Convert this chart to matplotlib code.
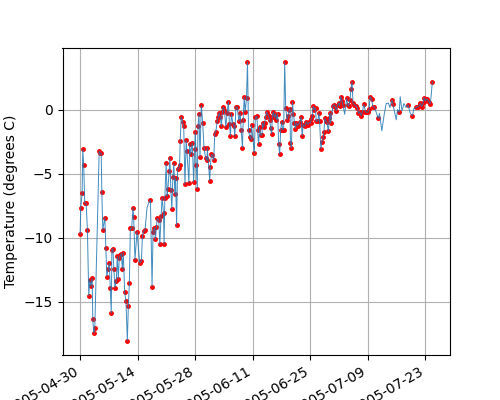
import numpy as np
import pandas as pd
import matplotlib
matplotlib.use("Agg")
import matplotlib.pyplot as plt
import matplotlib.dates as mdates

start_date = "2005-04-30"

# observation times (days after start) and temperatures (degrees C)
obs_days = [
    0.0, 0.15, 0.49, 0.64, 0.88, 1.12, 1.47, 1.78, 2.10, 2.35, 2.59, 2.93, 3.08, 3.32, 3.57,
    4.64, 4.89, 5.13, 5.28, 5.52, 6.01, 6.26, 6.5, 6.84, 7.09, 7.33, 7.58, 7.72, 7.97, 8.21,
    8.46, 8.8, 9.04, 9.29, 9.53, 9.78, 10.02, 10.27, 10.51, 10.83, 11.15, 11.49, 11.73, 11.98,
    12.22, 12.54, 12.86, 13.03, 13.35, 13.84, 14.5, 14.91, 15.16, 15.47, 15.79,
    17.11, 17.5, 17.75, 18.09, 18.33, 18.58, 18.72, 19.14, 19.38, 19.7, 19.95, 20.29, 20.43,
    20.61, 20.92, 21.17, 21.34, 21.66, 21.83, 22.07, 22.32, 22.56, 22.81, 23.05, 23.22, 23.47,
    23.71, 23.96, 24.2, 24.35, 24.59, 24.93, 25.2, 25.5, 25.81, 25.98, 26.47, 26.64, 26.89,
    27.28, 27.62, 27.87, 28.01, 28.26, 28.5, 28.67, 28.92, 29.16, 29.48, 29.82, 30.14, 30.55,
    30.87, 30.95, 31.53, 31.68, 31.92, 32.17, 32.51, 32.75, 33.0, 33.39, 33.63, 33.81, 34.12,
    34.37, 34.61, 34.78, 35.1, 35.44, 35.76, 36.08, 36.32, 36.57, 36.81, 37.15, 37.4, 37.64,
    37.89, 38.21, 38.62, 38.94, 39.18, 39.5, 39.67, 39.92, 40.16, 40.48, 40.72, 40.97, 41.31,
    41.55, 41.7, 42.38, 42.62, 43.02, 43.17, 43.41, 43.66, 44.0, 44.25, 44.39, 44.64, 44.88,
    45.12, 45.37, 45.61, 45.86, 46.1, 46.35, 46.59, 46.76, 47.0, 47.25, 47.49, 47.74, 48.06,
    48.3, 48.55, 48.79, 49.04, 49.28, 49.52, 49.77, 50.01, 50.35, 50.6, 50.84, 51.09, 51.16,
    51.41, 51.65, 51.9, 52.14, 52.38, 52.63, 52.94, 53.43, 53.78, 54.02, 54.27, 54.59, 55.07,
    55.39, 55.73, 56.05, 56.29, 56.47, 56.71, 56.96, 57.27, 57.44, 57.84, 58.09, 58.26, 58.57,
    58.81, 59.15, 59.3, 59.55, 59.79, 60.04, 60.38, 60.62, 60.77, 60.94, 61.5, 61.84, 62.09,
    62.33, 62.65, 62.89, 63.14, 63.38, 63.7, 63.94, 64.85, 65.09, 65.34, 65.66, 65.9, 66.15,
    66.39, 66.73, 67.12, 67.47, 67.71, 68.03, 68.35, 68.69, 69.01, 69.42, 69.67, 70.06, 70.31,
    70.55, 70.9, 71.22, 71.53, 72.5, 75.85, 76.09, 77.63, 79.76, 80.81, 81.79, 82.13, 82.45,
    82.77, 83.11, 83.43, 83.67, 83.99, 84.41, 84.82, 85.14, 85.7,
]
obs_temp = [
    -9.73, -7.65, -6.54, -3.11, -4.36, -7.26, -7.32, -9.42, -14.5, -13.3, -13.75, -13.15, -16.35, -17.43, -17.07,
    -3.25, -3.42, -3.42, -6.4, -9.39, -8.43, -10.82, -13.02, -12.4, -11.98, -13.88, -15.88, -10.95, -10.84, -12.45,
    -13.88, -13.39, -11.42, -13.18, -11.57, -11.36, -11.23, -12.4, -11.15, -14.19, -14.96, -18.05, -15.35, -13.56,
    -9.26, -9.26, -7.65, -8.38, -11.7, -9.52, -11.98, -11.8, -9.86, -9.47, -9.39,
    -7.06, -13.8, -9.52, -9.21, -10.12, -9.18, -8.48, -8.61, -10.51, -8.3, -6.87, -8.09, -10.51,
    -6.93, -4.2, -6.75, -6.23, -4.8, -3.76, -6.28, -7.73, -5.24, -4.2, -6.61, -5.37, -9.03,
    -4.67, -4.54, -4.33, -2.47, -0.57, -0.99, -1.25, -5.84, -2.41, -3.25, -5.7, -2.67, -3.5,
    -2.59, -5.63, -3.06, -1.74, -4.33, -6.17, -1.3, -0.33, -3.68, 0.33, -1.04, -2.98, -3.81,
    -3.97, -2.98, -5.58, -4.46, -3.5, -3.56, -3.97, -1.87, -1.74, -0.86, -0.57, -0.26, -0.6,
    -1.3, -0.18, 0.18, 0.0, -1.38, -0.26, 0.6, -1.09, -2.08, -0.31, -1.09, -1.25, -2.08,
    0.21, 0.21, -0.91, -0.26, -1.58, -2.98, -0.78, 0.96, -0.18, 0.91, 3.71, -1.63, -2.16,
    -2.33, -1.22, -3.37, -0.6, -0.52, -1.63, -2.72, -1.38, -2.02, -1.95, -1.04, -1.38, -1.04,
    -0.57, -0.18, -0.39, -0.52, -0.78, -1.42, -1.89, -0.57, -0.18, -0.6, -0.31, -0.78, -0.33,
    -2.67, -3.5, -1.56, -0.96, -1.56, -1.56, 3.71, 0.13, -0.78, -0.52, 0.0, 0.08, -2.59,
    -2.98, 0.6, -0.33, -1.04, -1.48, -1.04, -1.25, -0.96, -0.6, -2.08, -1.17, -1.3, -0.96,
    -1.17, -0.99, -1.04, -0.72, -0.52, 0.26, 0.0, 0.13, -0.93, -0.88, -0.29, -0.88, -3.06,
    -2.54, -2.18, -1.77, -0.68, -0.88, -0.99, -1.71, -0.68, -0.29, -1.07, 0.29, 0.37, 0.23,
    -0.1, 0.37, 0.49, 0.31, 1.01, 0.68, 0.37, 0.88, 0.37, 0.26, 0.75, 1.61, 2.18,
    0.49, 0.37, 0.29, 0.1, -0.29, -0.16, -0.49, -0.16, 0.41, -0.16, -0.21, -0.21, 0.05,
    1.01, 0.83, 0.23, 0.23, -0.68, 0.75, 0.44, -0.21, 0.37, -0.49, 0.16, 0.23, 0.29,
    0.49, 0.23, 0.49, 0.93, 0.68, 0.83, 0.62, 0.44, 2.18,
]

# extra points of the continuous curve between observations
curve_days = [16.28, 16.77, 64.36, 72.12, 72.84, 73.4, 73.97, 74.46, 75.04, 75.36,
              76.9, 77.24, 77.87, 78.29, 78.78, 79.27, 80.32, 81.23, 85.38]
curve_temp = [-7.65, -7.21, -0.37, -0.29, -0.3, -1.66, -0.39, 0.47, 0.49, 0.16,
              -0.8, 0.0, 1.01, -0.1, 0.47, 0.16, -0.29, 0.08, 1.0]

tick_labels = ["2005-04-30", "2005-05-14", "2005-05-28", "2005-06-11",
               "2005-06-25", "2005-07-09", "2005-07-23"]

t0 = pd.Timestamp(start_date)
obs_t = t0 + pd.to_timedelta(np.array(obs_days), unit="D")
line_d = np.concatenate([obs_days, curve_days])
line_v = np.concatenate([obs_temp, curve_temp])
order = np.argsort(line_d)
line_t = t0 + pd.to_timedelta(line_d[order], unit="D")
line_v = line_v[order]

fig = plt.figure(figsize=(5, 4), dpi=100)
ax = fig.add_subplot(111)
fig.subplots_adjust(left=0.125, right=0.9, bottom=0.1125, top=0.88)

ax.plot(obs_t, obs_temp, "r.", ms=5, zorder=2)
ax.plot(line_t, line_v, "-", color="#1f77b4", lw=0.7, alpha=0.85, zorder=3)

ax.set_xticks(pd.to_datetime(tick_labels))
ax.xaxis.set_major_formatter(mdates.DateFormatter("%Y-%m-%d"))
plt.setp(ax.get_xticklabels(), rotation=30, ha="right")
ax.set_ylabel("Temperature (degrees C)")
ax.grid(True)

fig.savefig("out.png", dpi=100)
